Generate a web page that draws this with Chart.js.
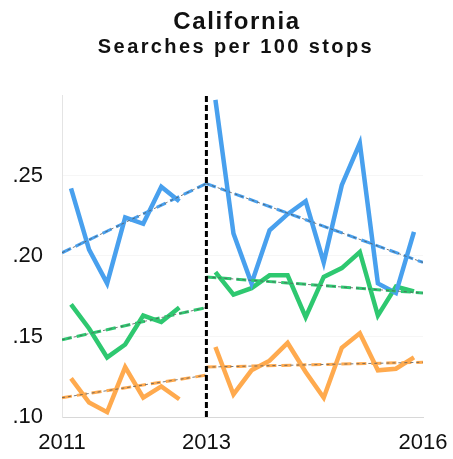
<!DOCTYPE html>
<html>
<head>
<meta charset="utf-8">
<script src="https://cdn.jsdelivr.net/npm/chart.js@4/dist/chart.umd.min.js"></script>
<style>
  html, body { margin: 0; padding: 0; background: #fff; }
  #wrap { width: 453px; height: 459px; }
</style>
</head>
<body>
<div id="wrap"><canvas id="c" width="453" height="459"></canvas></div>
<script>
// ---- data ----
const titleText = "California";
const subtitleText = "Searches per 100 stops";
const xTickValues = [2011, 2013, 2016];
const yTickValues = [0.10, 0.15, 0.20, 0.25];
const cutoffYear = 2013;

const quartersBefore = [2011.125, 2011.375, 2011.625, 2011.875, 2012.125, 2012.375, 2012.625];
const quartersAfter = [2013.125, 2013.375, 2013.625, 2013.875, 2014.125, 2014.375, 2014.625, 2014.875, 2015.125, 2015.375, 2015.625, 2015.875];

const blueBefore   = [0.242, 0.204, 0.183, 0.224, 0.220, 0.243, 0.234];
const greenBefore  = [0.170, 0.155, 0.137, 0.145, 0.163, 0.159, 0.168];
const orangeBefore = [0.124, 0.109, 0.103, 0.131, 0.112, 0.119, 0.111];

const blueAfter   = [0.297, 0.214, 0.183, 0.216, 0.226, 0.234, 0.196, 0.244, 0.270, 0.183, 0.177, 0.215];
const greenAfter  = [0.190, 0.176, 0.180, 0.188, 0.188, 0.162, 0.187, 0.1925, 0.2025, 0.163, 0.181, 0.178];
const orangeAfter = [0.1435, 0.114, 0.129, 0.135, 0.146, 0.128, 0.112, 0.143, 0.152, 0.129, 0.130, 0.137];

const trendXBefore = [2011, 2013];
const trendXAfter = [2013, 2016];
const blueTrendBefore   = [0.202, 0.245];
const blueTrendAfter    = [0.245, 0.196];
const greenTrendBefore  = [0.148, 0.168];
const greenTrendAfter   = [0.187, 0.177];
const orangeTrendBefore = [0.112, 0.126];
const orangeTrendAfter  = [0.131, 0.134];

const yRange = [0.10, 0.30];

// ---- styling ----
const BLUE = 'rgb(72,160,238)';
const GREEN = 'rgb(46,200,112)';
const ORANGE = 'rgb(255,170,78)';

function pts(xs, ys) { return xs.map((x, i) => ({ x: x, y: ys[i] })); }

function dataLine(xs, ys, color) {
  return { data: pts(xs, ys), borderColor: color, borderWidth: 4.5, pointRadius: 0, tension: 0, order: 4, fill: false };
}
function trendColored(xs, ys, color) {
  return { data: pts(xs, ys), borderColor: color, borderWidth: 3, borderDash: [10, 5], pointRadius: 0, order: 3, fill: false };
}
function trendGray(xs, ys) {
  return { data: pts(xs, ys), borderColor: 'rgba(90,90,90,0.8)', borderWidth: 1, borderDash: [3, 3], pointRadius: 0, order: 2, fill: false };
}

const datasets = [
  dataLine(quartersBefore, blueBefore, BLUE),
  dataLine(quartersBefore, greenBefore, GREEN),
  dataLine(quartersBefore, orangeBefore, ORANGE),
  dataLine(quartersAfter, blueAfter, BLUE),
  dataLine(quartersAfter, greenAfter, GREEN),
  dataLine(quartersAfter, orangeAfter, ORANGE),
  trendColored(trendXBefore, blueTrendBefore, BLUE),
  trendColored(trendXAfter, blueTrendAfter, BLUE),
  trendColored(trendXBefore, greenTrendBefore, GREEN),
  trendColored(trendXAfter, greenTrendAfter, GREEN),
  trendColored(trendXBefore, orangeTrendBefore, ORANGE),
  trendColored(trendXAfter, orangeTrendAfter, ORANGE),
  trendGray(trendXBefore, blueTrendBefore),
  trendGray(trendXAfter, blueTrendAfter),
  trendGray(trendXBefore, greenTrendBefore),
  trendGray(trendXAfter, greenTrendAfter),
  trendGray(trendXBefore, orangeTrendBefore),
  trendGray(trendXAfter, orangeTrendAfter),
  { data: [{ x: cutoffYear, y: yRange[0] }, { x: cutoffYear, y: yRange[1] }],
    borderColor: '#000', borderWidth: 3, borderDash: [6, 3], pointRadius: 0, order: 1, fill: false }
];

const FONT = '"Liberation Sans", Arial, Helvetica, sans-serif';

const titlePlugin = {
  id: 'titles',
  afterDraw(chart) {
    const ctx = chart.ctx;
    ctx.save();
    ctx.fillStyle = '#111';
    ctx.textAlign = 'center';
    ctx.textBaseline = 'alphabetic';
    ctx.font = 'bold 24px ' + FONT;
    ctx.letterSpacing = '1.7px';
    ctx.fillText(titleText, 237, 29);
    ctx.font = 'bold 20px ' + FONT;
    ctx.letterSpacing = '2.4px';
    ctx.fillText(subtitleText, 236, 53);
    ctx.restore();
  }
};

new Chart(document.getElementById('c'), {
  type: 'line',
  data: { datasets: datasets },
  plugins: [titlePlugin],
  options: {
    responsive: false,
    animation: false,
    layout: { padding: { top: 95, right: 30, bottom: 0, left: 0 } },
    plugins: { legend: { display: false }, tooltip: { enabled: false }, title: { display: false } },
    scales: {
      x: {
        type: 'linear',
        min: 2011, max: 2016,
        afterBuildTicks: (s) => { s.ticks = xTickValues.map(v => ({ value: v })); },
        afterFit: (s) => { s.height = 42; s.paddingLeft = 0; s.paddingRight = 0; },
        grid: { display: false, drawTicks: false },
        border: { display: true, color: '#d8d8d8', width: 1 },
        ticks: { padding: 13, color: '#111', font: { family: FONT, size: 22 }, maxRotation: 0,
                 callback: (v) => String(v) }
      },
      y: {
        type: 'linear',
        min: yRange[0], max: yRange[1],
        afterBuildTicks: (s) => { s.ticks = yTickValues.map(v => ({ value: v })); },
        afterFit: (s) => { s.width = 62; },
        grid: { display: true, drawTicks: false, color: 'rgba(0,0,0,0.035)' },
        border: { display: true, color: '#e4e4e4', width: 1 },
        ticks: { padding: 19, color: '#111', font: { family: FONT, size: 22 },
                 callback: (v) => Number(v).toFixed(2).replace(/^0/, '') }
      }
    }
  }
});
</script>
</body>
</html>
